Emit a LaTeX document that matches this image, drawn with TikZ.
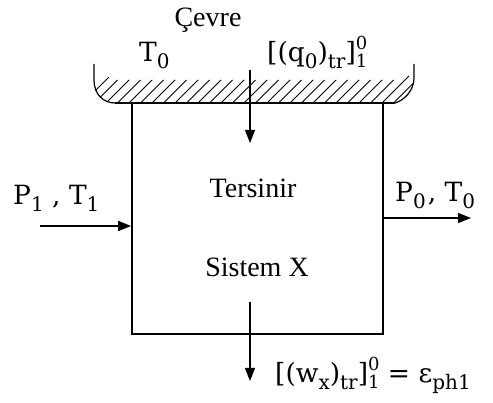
\documentclass[tikz,border=0pt]{standalone}
\usepackage{fontspec}
\setmainfont{Liberation Serif}
\newfontfamily\mfont{DejaVu Serif}
\usetikzlibrary{arrows.meta}
\newcommand\sbx[1]{\raisebox{-7pt}{\fontsize{20}{20}\selectfont #1}}
\newcommand\spsb[2]{\rlap{\raisebox{12pt}{\fontsize{18}{18}\selectfont #1}}\raisebox{-6pt}{\fontsize{18}{18}\selectfont #2}}
\begin{document}
\begin{tikzpicture}[x=1pt,y=-1pt,
  lbl/.style={inner sep=0pt, font=\fontsize{28}{33}\selectfont},
  mlbl/.style={inner sep=0pt, font=\mfont\fontsize{26.5}{31}\selectfont},
  flow/.style={line width=1.4pt, -{Triangle[length=13pt,width=10pt]}},
  sysbox/.style={draw, line width=1.7pt, minimum width=251pt, minimum height=231pt, inner sep=0pt},
]
\useasboundingbox (0,0) rectangle (493,403);
% surroundings (hatched wall)
\begin{scope}
  \clip (94,64) -- (94,80) .. controls (94,95) and (104,103) .. (115,103)
        -- (395,103) .. controls (405,100) and (414,90) .. (414,78) -- (414,62)
        -- (400,80) -- (112,80) -- cycle;
  \foreach \i in {0,...,30} {
    \draw[line width=0.9pt] (80+11.5*\i,106) -- (110+11.5*\i,76);
  }
\end{scope}
\draw[line width=1.2pt] (94,64) -- (94,80) .. controls (94,95) and (104,103) .. (115,103);
\draw[line width=1.2pt] (414,64) -- (414,78) .. controls (414,90) and (405,100) .. (395,103);
\draw[line width=2pt] (115,103) -- (395,103);
% system box
\node[sysbox] (sys) at (257.5,218.5) {};
% texts
\node[lbl, anchor=base] (cevre) at (208,27) {Çevre};
\node[mlbl, anchor=base west] (t0) at (139,62) {T\sbx{0}};
\node[mlbl, anchor=base west] (q0) at (267,62) {[(q\sbx{0})\sbx{tr}]\spsb{0}{1}};
\node[lbl, anchor=base] (ters) at (253,198) {Tersinir};
\node[lbl, anchor=base] (sis) at (257,277) {Sistem X};
\node[mlbl, anchor=base west] (p1) at (13,205) {P\sbx{1} ,\ T\sbx{1}};
\node[mlbl, anchor=base west] (p0) at (395,202) {P\sbx{0}\kern2pt, T\sbx{0}};
\node[mlbl, anchor=base west] (wx) at (275,383) {[(w\sbx{x})\sbx{tr}]\spsb{0}{1} = ε\sbx{ph1}};
% connectors
\coordinate (qs) at (250,70);
\coordinate (qe) at (250,143);
\draw[flow] (qs) -- (qe);
\coordinate (inL) at (40,226);
\draw[flow] (inL) -- (inL -| sys.west);
\coordinate (outR) at (471,218);
\draw[flow] (outR -| sys.east) -- (outR);
\coordinate (ws) at (250,302);
\coordinate (we) at (250,381);
\draw[flow] (ws) -- (we);
\end{tikzpicture}
\end{document}
